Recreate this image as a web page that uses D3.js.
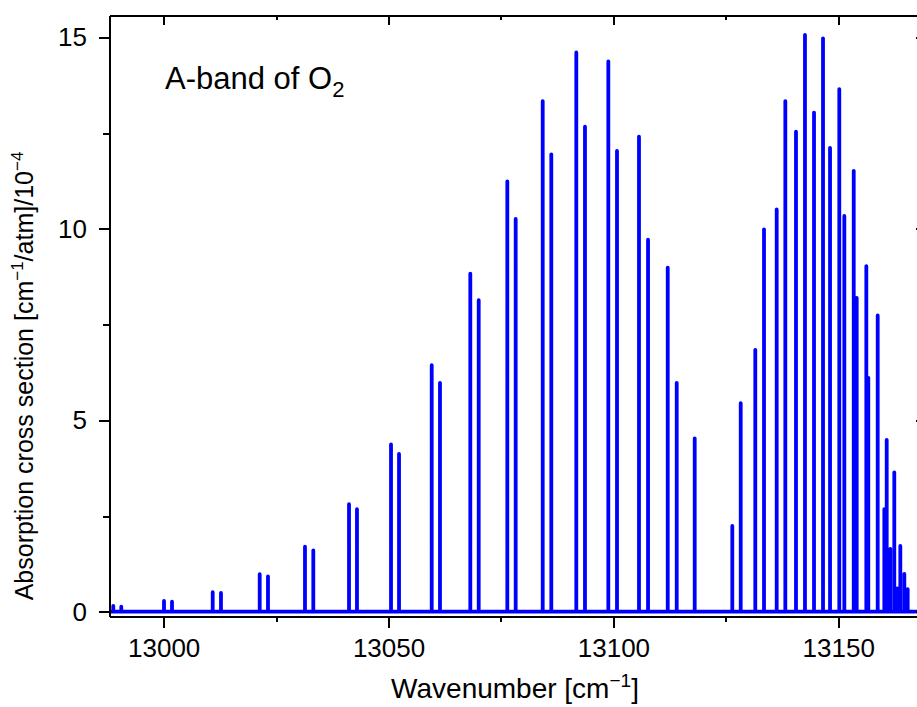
<!DOCTYPE html>
<head>
    <script src="https://cdn.jsdelivr.net/npm/d3@7/dist/d3.min.js"></script>
    <style>
        body {
            margin: 0;
            background: #fff;
        }

        text {
            font-family: "Liberation Sans", Arial, sans-serif;
            fill: #000;
        }

        .axis text {
            font-size: 26px;
        }

        .axis path, .axis line {
            stroke: #000;
            stroke-width: 2;
            shape-rendering: crispEdges;
        }

        .spectrum {
            fill: none;
            stroke: #0000ff;
            stroke-width: 3.8px;
            stroke-linejoin: round;
        }
    </style>
</head>
<body>
<div id="chart"></div>
<script type="text/javascript">
    // P branch (left part) : line positions [cm-1] and peak heights [1e-4 cm-1/atm]
    var pBranchPos = [12988.79, 12990.57, 13000.07, 13001.85, 13010.90, 13012.74, 13021.35, 13023.19,
        13031.42, 13033.27, 13041.21, 13042.98, 13050.55, 13052.33, 13059.60, 13061.44,
        13068.18, 13070.05, 13076.41, 13078.27, 13084.28, 13086.19, 13091.75, 13093.68,
        13098.87, 13100.80, 13105.69, 13107.70, 13112.08, 13114.08, 13118.08];
    var pBranchVal = [0.15, 0.13, 0.28, 0.26, 0.51, 0.49, 0.98, 0.92,
        1.70, 1.60, 2.81, 2.68, 4.37, 4.12, 6.44, 5.98,
        8.83, 8.14, 11.24, 10.26, 13.34, 11.95, 14.61, 12.67,
        14.38, 12.04, 12.41, 9.72, 8.99, 5.98, 4.53];

    // R branch (right part)
    var rBranchPos = [13126.44, 13128.31, 13131.55, 13133.49, 13136.31, 13138.23, 13140.60, 13142.60,
        13144.61, 13146.61, 13148.17, 13150.23, 13151.35, 13153.44, 13154.10, 13156.24,
        13156.68, 13158.77, 13160.24, 13160.77, 13161.57, 13162.46, 13163.13, 13163.80,
        13164.69, 13165.44];
    var rBranchVal = [2.24, 5.45, 6.84, 9.99, 10.51, 13.34, 12.54, 15.07,
        13.04, 14.98, 12.12, 13.65, 10.34, 11.52, 8.20, 9.03,
        6.11, 7.74, 2.68, 4.49, 1.64, 3.64, 0.61, 1.72,
        0.99, 0.59];

    var xTicks = [13000, 13050, 13100, 13150];
    var xMinor = [13025, 13075, 13125];
    var yTicks = [0, 5, 10, 15];
    var yMinor = [2.5, 7.5, 12.5];

    var margin = {top: 15, right: -9, bottom: 91, left: 109},
        width = 917 - margin.left - margin.right,
        height = 707 - margin.top - margin.bottom;

    var svg = d3.select("#chart").append("svg")
        .attr("width", 917)
        .attr("height", 707)
        .style("display", "block")
        .append("g").attr("transform", "translate(" + margin.left + "," + margin.top + ")");

    var xScale = d3.scaleLinear().domain([12987.84, 13169.51]).range([0, width]);
    var yScale = d3.scaleLinear().domain([-0.112, 15.59]).range([height, 0]);

    // spectrum as one polyline: baseline, up to each peak, back down
    var peaks = [];
    pBranchPos.forEach(function (p, i) {
        peaks.push([p, pBranchVal[i]]);
    });
    rBranchPos.forEach(function (p, i) {
        peaks.push([p, rBranchVal[i]]);
    });
    peaks.sort(function (a, b) {
        return a[0] - b[0];
    });
    var pts = [[xScale.domain()[0], 0]];
    peaks.forEach(function (d) {
        pts.push([d[0], 0], [d[0], d[1]], [d[0], 0]);
    });
    pts.push([xScale.domain()[1], 0]);

    svg.append("clipPath").attr("id", "clip")
        .append("rect").attr("width", width).attr("height", height);

    var line = d3.line()
        .x(function (d) {
            return xScale(d[0]);
        })
        .y(function (d) {
            return yScale(d[1]);
        });

    svg.append("path")
        .datum(pts)
        .attr("class", "spectrum")
        .attr("clip-path", "url(#clip)")
        .attr("d", line);

    var fmt = d3.format("d");

    // axes: major + minor, outward on bottom/left, inward on top/right
    svg.append("g").attr("class", "x axis")
        .attr("transform", "translate(0," + height + ")")
        .call(d3.axisBottom(xScale).tickValues(xTicks).tickSizeInner(12).tickSizeOuter(0).tickPadding(11).tickFormat(fmt));
    svg.append("g").attr("class", "x axis")
        .attr("transform", "translate(0," + height + ")")
        .call(d3.axisBottom(xScale).tickValues(xMinor).tickSizeInner(6).tickSizeOuter(0).tickFormat(""));
    svg.append("g").attr("class", "x axis")
        .call(d3.axisTop(xScale).tickValues(xTicks).tickSizeInner(-10).tickSizeOuter(0).tickFormat(""));
    svg.append("g").attr("class", "x axis")
        .call(d3.axisTop(xScale).tickValues(xMinor).tickSizeInner(-5).tickSizeOuter(0).tickFormat(""));

    svg.append("g").attr("class", "y axis")
        .call(d3.axisLeft(yScale).tickValues(yTicks).tickSizeInner(10).tickSizeOuter(0).tickPadding(12).tickFormat(fmt));
    svg.append("g").attr("class", "y axis")
        .call(d3.axisLeft(yScale).tickValues(yMinor).tickSizeInner(6).tickSizeOuter(0).tickFormat(""));
    svg.append("g").attr("class", "y axis")
        .attr("transform", "translate(" + width + ",0)")
        .call(d3.axisRight(yScale).tickValues(yTicks).tickSizeInner(-10).tickSizeOuter(0).tickFormat(""));
    svg.append("g").attr("class", "y axis")
        .attr("transform", "translate(" + width + ",0)")
        .call(d3.axisRight(yScale).tickValues(yMinor).tickSizeInner(-5).tickSizeOuter(0).tickFormat(""));

    // titles
    var xt = svg.append("text")
        .attr("x", 406).attr("y", height + 82)
        .attr("text-anchor", "middle")
        .style("font-size", "28px");
    xt.append("tspan").text("Wavenumber [cm");
    xt.append("tspan").attr("dy", -11).style("font-size", "19px").text("\u22121");
    xt.append("tspan").attr("dy", 11).text("]");

    var yt = svg.append("text")
        .attr("transform", "translate(-76," + 361 + ") rotate(-90)")
        .attr("text-anchor", "middle")
        .style("font-size", "25px");
    yt.append("tspan").text("Absorption cross section [cm");
    yt.append("tspan").attr("dy", -10).style("font-size", "17px").text("\u22121");
    yt.append("tspan").attr("dy", 10).text("/atm]/10");
    yt.append("tspan").attr("dy", -10).style("font-size", "17px").text("\u22124");

    var lab = svg.append("text")
        .attr("x", 56).attr("y", 74)
        .style("font-size", "31px");
    lab.append("tspan").text("A-band of O");
    lab.append("tspan").attr("dy", 8).style("font-size", "22px").text("2");
</script>
</body>
</html>
